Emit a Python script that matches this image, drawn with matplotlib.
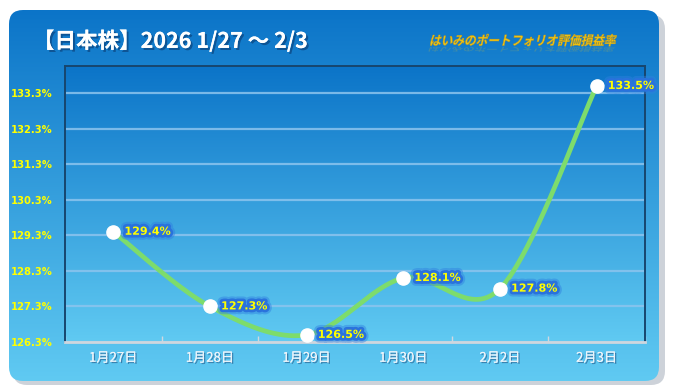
import numpy as np
import matplotlib.pyplot as plt
import matplotlib.patheffects as pe
from matplotlib.patches import FancyBboxPatch, PathPatch
from matplotlib.textpath import TextPath
from matplotlib.font_manager import FontProperties
from matplotlib.transforms import Affine2D

plt.rcParams['font.family'] = ['Noto Sans CJK JP', 'DejaVu Sans']

# data
dates = ["1月27日", "1月28日", "1月29日", "1月30日", "2月2日", "2月3日"]
values = [129.4, 127.3, 126.5, 128.1, 127.8, 133.5]
yticks = [126.3, 127.3, 128.3, 129.3, 130.3, 131.3, 132.3, 133.3]
title = "【日本株】2026 1/27 〜 2/3"
subtitle = "はいみのポートフォリオ評価損益率"

W, H = 674, 392
fig = plt.figure(figsize=(W / 100, H / 100), dpi=100)
fig.patch.set_facecolor("white")

# background panel (pixel coords, y up)
bg = fig.add_axes([0, 0, 1, 1])
bg.set_xlim(0, W)
bg.set_ylim(0, H)
bg.axis("off")

shadow = FancyBboxPatch((13, 7), 652, 370, boxstyle="round,pad=0,rounding_size=14",
                        fc="#cdd2d9", ec="none", zorder=0)
bg.add_patch(shadow)
panel = FancyBboxPatch((9, 11), 650, 371, boxstyle="round,pad=0,rounding_size=14",
                       fc="none", ec="none", zorder=1)
bg.add_patch(panel)
grad = np.linspace(0, 1, 256).reshape(-1, 1)
top_c = np.array([0x0b, 0x74, 0xc8]) / 255
bot_c = np.array([0x60, 0xca, 0xf2]) / 255
img = top_c * (1 - grad[..., None]) + bot_c * grad[..., None]
im = bg.imshow(img, extent=(9, 659, 11, 382), aspect="auto", zorder=1, origin="upper")
im.set_clip_path(panel)

bg.text(33, H - 41, title, color="white", fontsize=15.5, fontweight="bold",
        va="center", ha="left", zorder=3,
        path_effects=[pe.withSimplePatchShadow(offset=(1.5, -1.5), shadow_rgbFace="#0a3a70", alpha=0.6),
                      pe.Normal()])

# italic subtitle via skewed text path
fp = FontProperties(family="Noto Sans CJK JP", size=11, weight="bold")
tp = TextPath((0, 0), subtitle, prop=fp)
ext = tp.get_extents()
sc = 185 / ext.width
tr = Affine2D().skew_deg(14, 0).scale(sc, sc * 1.1).translate(429, H - 45)
bg.add_patch(PathPatch(tr.transform_path(tp), fc="#f0c414", ec="#c89a10", lw=0.3, zorder=3))
tr2 = Affine2D().skew_deg(-14, 0).scale(sc, -sc * 0.5).translate(429, H - 47)
bg.add_patch(PathPatch(tr2.transform_path(tp), fc="#f5c816", ec="none", alpha=0.18, zorder=3))

# plot area
ax = fig.add_axes([65 / W, (H - 342) / H, 580 / W, 276 / H])
ax.set_xlim(-0.5, 5.5)
ax.set_ylim(126.3, 134.06)
ax.imshow(top_c * (1 - grad[..., None]) + bot_c * grad[..., None],
          extent=(-0.5, 5.5, 126.3, 134.06), aspect="auto", zorder=0, origin="upper")
ax.patch.set_alpha(0)
for y in yticks:
    ax.axhline(y, color="#8cc4ee", lw=1.6, alpha=0.85, zorder=1)

# smoothed line (Catmull-Rom style, like a spreadsheet smooth line)
x = np.arange(len(values), dtype=float)
v = np.array(values)
px = np.concatenate([[x[0]], x, [x[-1]]])
pv = np.concatenate([[v[0]], v, [v[-1]]])
xs, ys = [], []
t = np.linspace(0, 1, 40)
for i in range(len(values) - 1):
    p0 = np.array([x[i], v[i]])
    p3 = np.array([x[i + 1], v[i + 1]])
    p1 = p0 + (np.array([px[i + 2], pv[i + 2]]) - np.array([px[i], pv[i]])) / 6
    p2 = p3 - (np.array([px[i + 3], pv[i + 3]]) - np.array([px[i + 1], pv[i + 1]])) / 6
    b = ((1 - t) ** 3)[:, None] * p0 + (3 * (1 - t) ** 2 * t)[:, None] * p1 \
        + (3 * (1 - t) * t ** 2)[:, None] * p2 + (t ** 3)[:, None] * p3
    xs.extend(b[:, 0])
    ys.extend(b[:, 1])
ax.plot(xs, ys, color="#7ddc6c", lw=3.4, solid_capstyle="round", zorder=3)
ax.plot(x, v, "o", ms=9.5, mfc="white", mec="white", zorder=4)

glow = [pe.Stroke(linewidth=7, foreground="#2f7fe0", alpha=0.45),
        pe.Stroke(linewidth=4, foreground="#2a72dc"),
        pe.Normal()]
for xi, vi in zip(x, v):
    ax.annotate(f"{vi:.1f}%", (xi, vi), xytext=(8, 0), textcoords="offset points",
                va="center", ha="left", color="#ffff00", fontsize=8, fontweight="bold",
                family=["DejaVu Sans"], zorder=5, path_effects=glow)

ax.set_yticks(yticks)
ax.set_yticklabels([f"{y:.1f}%" for y in yticks], color="#ffff00", fontsize=7.2,
                   fontweight="bold", family=["DejaVu Sans"])
ax.set_xticks(x)
ax.set_xticklabels(dates, color="#eef4fa", fontsize=9.5)
for lab in ax.get_xticklabels():
    lab.set_path_effects([pe.withSimplePatchShadow(offset=(1, -1), shadow_rgbFace="#205080", alpha=0.6),
                          pe.Normal()])
ax.tick_params(axis="y", length=0, pad=9)
ax.tick_params(axis="x", length=0, pad=7)
ax.set_xticks(np.arange(-0.5, 6, 1), minor=True)
ax.tick_params(axis="x", which="minor", length=4, direction="in", color="#d0d8e0", width=1)
for s in ["left", "top", "right"]:
    ax.spines[s].set_color("#17466e")
    ax.spines[s].set_linewidth(1.4)
ax.spines["bottom"].set_color("#cfd6de")
ax.spines["bottom"].set_linewidth(2)

fig.savefig("out.png", dpi=100)
